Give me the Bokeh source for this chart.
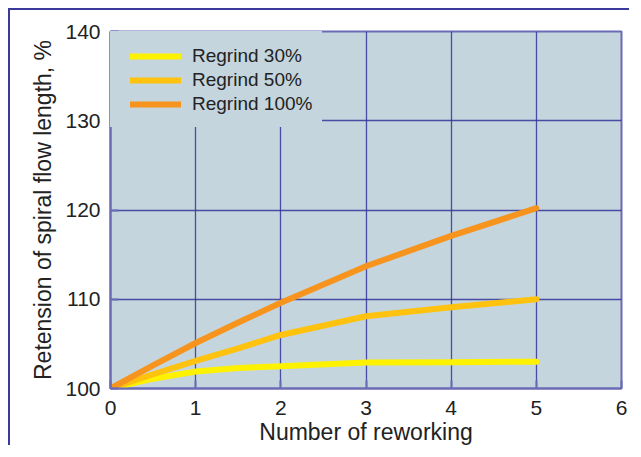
from bokeh.plotting import figure
from bokeh.models import Legend, LegendItem, FixedTicker, Range1d
from bokeh.embed import file_html
from bokeh.resources import INLINE

# Data
reworking = [0, 0.5, 1, 1.5, 2, 3, 4, 5]
regrind_30 = [100, 101.1, 101.9, 102.3, 102.5, 102.9, 102.95, 103.0]
regrind_50 = [100, 101.6, 103.1, 104.5, 106.0, 108.1, 109.1, 110.0]
regrind_100 = [100, 102.6, 105.1, 107.4, 109.6, 113.7, 117.1, 120.2]
series_names = ["Regrind 30%", "Regrind 50%", "Regrind 100%"]
series_colors = ["#fff200", "#ffc20e", "#f7941d"]
x_ticks = [0, 1, 2, 3, 4, 5, 6]
y_ticks = [100, 110, 120, 130, 140]

FONT = "Liberation Sans"
GRID = "#34349a"
FRAME = "#6b6bb5"

p = figure(width=621, height=437, output_backend="svg", toolbar_location=None,
           x_range=Range1d(0, 6), y_range=Range1d(100, 140),
           min_border_left=100, min_border_top=21, min_border_right=10,
           min_border_bottom=58)
p.styles = {"border-left": "2px solid #3a3a9a", "border-top": "2px solid #3a3a9a",
            "margin-left": "8px", "margin-top": "8px"}
p.background_fill_color = "#c4d5dd"
p.border_fill_color = "white"
p.outline_line_color = FRAME
p.outline_line_width = 2

p.xaxis.ticker = FixedTicker(ticks=x_ticks)
p.yaxis.ticker = FixedTicker(ticks=y_ticks)
for ax in (p.xaxis[0], p.yaxis[0]):
    ax.axis_line_color = FRAME
    ax.axis_line_width = 2
    ax.major_tick_in = 8
    ax.major_tick_out = 0
    ax.major_tick_line_color = FRAME
    ax.major_tick_line_width = 2
    ax.minor_tick_line_color = None
    ax.major_label_text_font = FONT
    ax.major_label_text_font_size = "21px"
    ax.major_label_text_color = "#222222"
    ax.axis_label_text_font = FONT
    ax.axis_label_text_font_size = "23px"
    ax.axis_label_text_font_style = "normal"
    ax.axis_label_text_color = "#222222"
p.xaxis.axis_label = "Number of reworking"
p.yaxis.axis_label = "Retension of spiral flow length, %"
p.xaxis.major_label_standoff = 12
p.yaxis.major_label_standoff = 10
p.xaxis.axis_label_standoff = 1
p.yaxis.axis_label_standoff = 6

p.xgrid.ticker = FixedTicker(ticks=[1, 2, 3, 4, 5])
p.ygrid.ticker = FixedTicker(ticks=[110, 120, 130])
p.grid.grid_line_color = GRID
p.grid.grid_line_width = 1.3
p.grid.grid_line_alpha = 0.85

renderers = []
for ys, c in zip([regrind_30, regrind_50, regrind_100], series_colors):
    r = p.line(reworking, ys, line_color=c, line_width=6, line_cap="round",
               line_join="round")
    renderers.append(r)

items = [LegendItem(label=n, renderers=[r]) for n, r in zip(series_names, renderers)]
legend = Legend(items=items, location="top_left")
legend.background_fill_color = "#c4d5dd"
legend.background_fill_alpha = 1
legend.border_line_color = "#c4d5dd"
legend.border_line_width = 1
legend.label_text_font = FONT
legend.label_text_font_size = "19px"
legend.label_text_color = "#222222"
legend.glyph_width = 51
legend.glyph_height = 24
legend.label_height = 24
legend.spacing = 0
try:
    legend.padding = (19, 9, 12, 10)
except Exception:
    legend.padding = 15
legend.margin = 0
legend.label_standoff = 11
legend.label_width = 118
p.add_layout(legend)

open("out.html", "w").write(file_html(p, INLINE))
